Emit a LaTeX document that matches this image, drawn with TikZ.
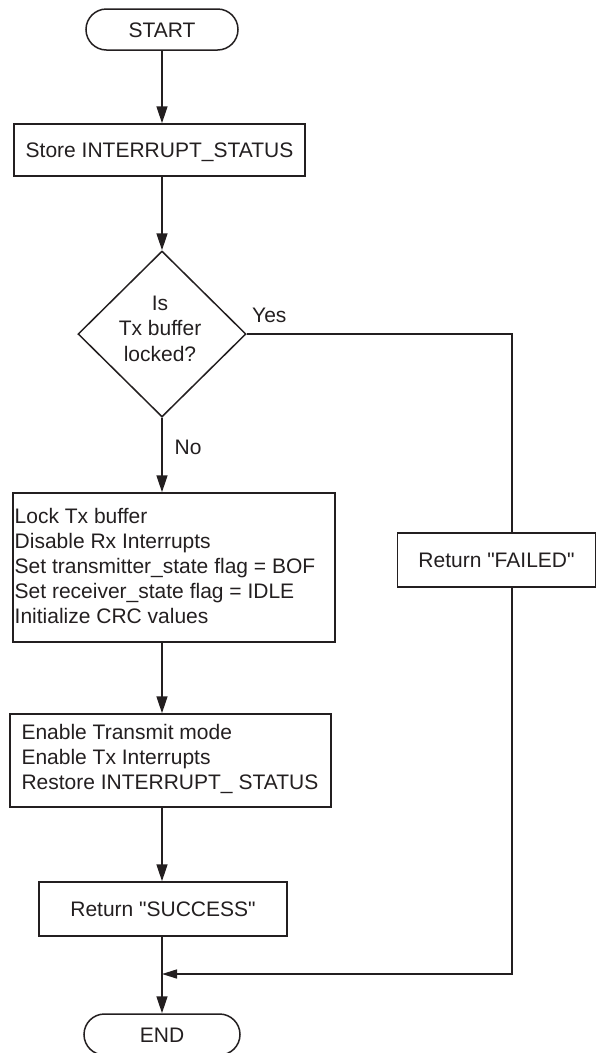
\documentclass[tikz,border=0pt]{standalone}
\usepackage{fontspec}
\setmainfont{Liberation Sans}
\usetikzlibrary{shapes.geometric,arrows.meta}
\definecolor{ink}{HTML}{231F20}
\newcommand{\lab}{\fontsize{21}{25}\selectfont}
\newcommand{\labq}{\fontsize{21}{25.5}\selectfont}
\newcommand{\qt}[1]{\textquotedbl#1\textquotedbl}

\begin{document}
\begin{tikzpicture}[x=1pt,y=-1pt,
  flow/.style={draw=ink,line width=1.5pt},
  arr/.style={flow,-{Triangle[length=17pt,width=11pt]}},
  arrs/.style={flow,-{Triangle[length=15pt,width=9pt]}},
  box/.style={flow,rectangle,inner sep=0pt,text=ink,font=\lab,
    text height=15.04pt,text depth=0pt},
  term/.style={box,rounded corners=20.5pt,minimum height=41pt},
  decision/.style={flow,diamond,inner sep=0pt,minimum width=168pt,minimum height=166pt},
  txt/.style={inner sep=0pt,text=ink,font=\lab,align=left,anchor=north west},
  lbl/.style={inner sep=0pt,text=ink,font=\lab,anchor=base west},
]
\useasboundingbox (0,0) rectangle (596,1053);

% process boxes
\node[term,minimum width=152pt] (start) at (162,29.5) {START};
\node[box,minimum width=291pt,minimum height=52pt] (store) at (159.5,150) {Store INTERRUPT\_STATUS};
\node[decision] (dec) at (162,334) {};
\node[txt,align=center,anchor=center,font=\labq] (dect) at (160,330.4)
  {\strut Is\\\strut Tx buffer\\\strut locked?};
\node[box,minimum width=322pt,minimum height=149pt] (lock) at (174,567.5) {};
\node[txt] (lockt) at (14.5,505.5)
  {\strut Lock Tx buffer\\\strut Disable Rx Interrupts\\\strut Set transmitter\_state flag = BOF\\\strut Set receiver\_state flag = IDLE\\\strut Initialize CRC values};
\node[box,minimum width=198pt,minimum height=54pt] (fail) at (496.5,560) {Return \qt{FAILED}};
\node[box,minimum width=321pt,minimum height=93pt] (enable) at (170.5,760.5) {};
\node[txt] (enablet) at (21.3,721.5)
  {\strut Enable Transmit mode\\\strut Enable Tx Interrupts\\\strut Restore INTERRUPT\_ STATUS};
\node[box,minimum width=248pt,minimum height=54pt] (success) at (163,909) {Return \qt{SUCCESS}};
\node[term,minimum width=156pt] (endn) at (162,1034.5) {END};

% branch labels
\node[lbl] (yes) at (252,322) {Yes};
\node[lbl] (no) at (174.5,454) {No};

% routing points
\coordinate (corner) at (512,334);
\coordinate (merge) at (162,974);

% connectors
\draw[arr] (start.south) -- (start.south |- store.north);
\draw[arr] (store.south -| dec.north) -- (dec.north);
\draw[arr] (dec.south) -- (dec.south |- lock.north);
\draw[arr] (lock.south -| dec.south) -- (enable.north -| dec.south);
\draw[arr] (enable.south -| dec.south) -- (success.north -| dec.south);
\draw[arr] (success.south -| merge) -- (endn.north -| merge);
\draw[flow] (dec.east) -- (corner) -- (corner |- fail.north);
\draw[arrs] (fail.south -| corner) |- (merge);
\end{tikzpicture}
\end{document}
